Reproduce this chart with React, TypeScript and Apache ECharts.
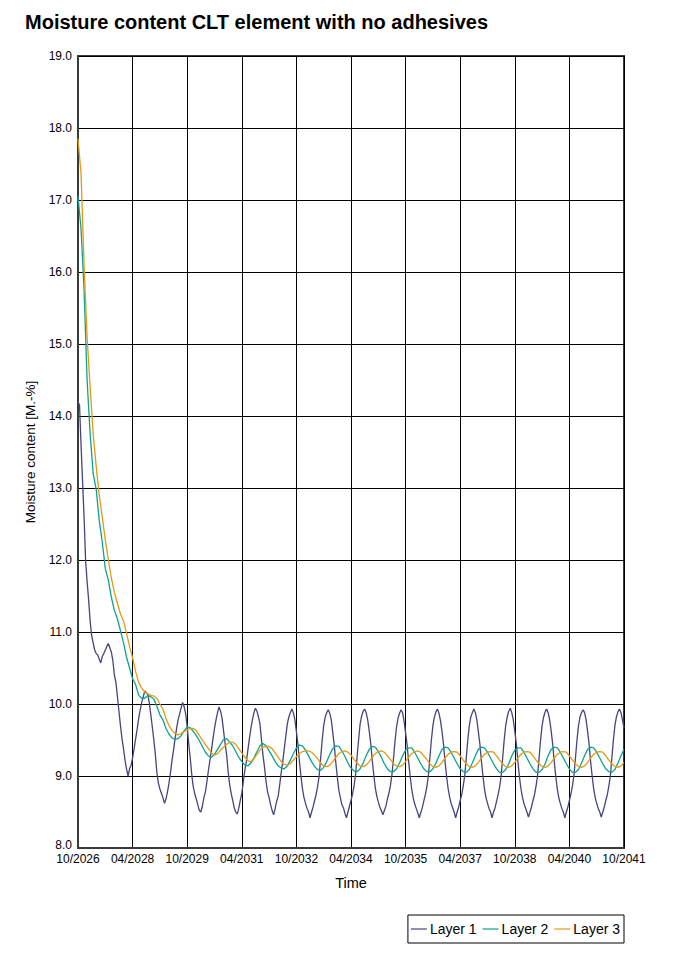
import React, { useEffect, useRef } from "react";
import * as echarts from "echarts";

// X axis: months since 10/2026, tick every 18 months
const X_TICKS = ["10/2026", "04/2028", "10/2029", "04/2031", "10/2032", "04/2034", "10/2035", "04/2037", "10/2038", "04/2040", "10/2041"];
const SERIES_NAMES = ["Layer 1", "Layer 2", "Layer 3"];

// Layer 1: half-month steps from month 0
const L1 = [
  14.2, 14.15, 13.6, 13.1, 12.6, 12.0, 11.7, 11.45, 11.15, 10.95, 10.85, 10.75, 10.7, 10.68, 10.62, 10.57, 10.66, 10.7, 10.75, 10.8, 10.84, 10.78, 10.72, 10.6,
  10.4, 10.3, 10.1, 9.9, 9.7, 9.52, 9.38, 9.22, 9.1, 9.0, 9.1, 9.15, 9.25, 9.38, 9.52, 9.65, 9.8, 9.92, 10.02, 10.1, 10.18, 10.16, 10.13, 10.02,
  9.85, 9.68, 9.5, 9.3, 9.05, 8.9, 8.82, 8.76, 8.7, 8.62, 8.68, 8.78, 8.9, 9.05, 9.22, 9.36, 9.52, 9.66, 9.78, 9.86, 9.95, 10.02, 9.96, 9.86,
  9.68, 9.45, 9.25, 9.02, 8.85, 8.75, 8.68, 8.6, 8.52, 8.5, 8.58, 8.7, 8.78, 8.92, 9.08, 9.22, 9.36, 9.52, 9.66, 9.78, 9.88, 9.96, 9.9, 9.8,
  9.62, 9.45, 9.3, 9.06, 8.88, 8.76, 8.66, 8.56, 8.5, 8.47, 8.55, 8.66, 8.76, 8.92, 9.08, 9.2, 9.36, 9.52, 9.66, 9.78, 9.88, 9.94, 9.9, 9.82,
  9.72, 9.5, 9.28, 9.12, 8.92, 8.78, 8.7, 8.6, 8.52, 8.46, 8.55, 8.65, 8.72, 8.88, 9.05, 9.2, 9.38, 9.55, 9.72, 9.82, 9.88, 9.93, 9.88, 9.78,
  9.62, 9.44, 9.2, 9.0, 8.82, 8.7, 8.62, 8.55, 8.5, 8.42, 8.5, 8.57, 8.66, 8.74, 8.86, 9.0, 9.25, 9.5, 9.7, 9.82, 9.88, 9.92, 9.87, 9.78,
  9.6, 9.42, 9.18, 8.98, 8.8, 8.7, 8.6, 8.56, 8.48, 8.42, 8.5, 8.58, 8.66, 8.75, 8.86, 9.02, 9.26, 9.5, 9.72, 9.83, 9.9, 9.93, 9.88, 9.78,
  9.63, 9.45, 9.22, 9.02, 8.84, 8.72, 8.64, 8.57, 8.52, 8.46, 8.52, 8.58, 8.68, 8.76, 8.87, 9.02, 9.24, 9.48, 9.68, 9.8, 9.87, 9.92, 9.88, 9.76,
  9.6, 9.43, 9.2, 9.0, 8.82, 8.7, 8.61, 8.55, 8.49, 8.42, 8.49, 8.56, 8.65, 8.74, 8.85, 9.0, 9.25, 9.5, 9.7, 9.82, 9.89, 9.93, 9.87, 9.77,
  9.62, 9.44, 9.2, 9.0, 8.83, 8.71, 8.62, 8.56, 8.5, 8.42, 8.5, 8.57, 8.66, 8.74, 8.86, 9.01, 9.25, 9.5, 9.7, 9.82, 9.88, 9.93, 9.88, 9.78,
  9.61, 9.44, 9.2, 9.0, 8.82, 8.7, 8.62, 8.55, 8.5, 8.42, 8.5, 8.56, 8.65, 8.74, 8.85, 9.0, 9.25, 9.5, 9.7, 9.82, 9.9, 9.94, 9.88, 9.78,
  9.62, 9.45, 9.21, 9.0, 8.83, 8.71, 8.62, 8.56, 8.5, 8.43, 8.5, 8.57, 8.66, 8.74, 8.86, 9.0, 9.25, 9.5, 9.7, 9.82, 9.89, 9.93, 9.88, 9.78,
  9.62, 9.44, 9.2, 9.0, 8.82, 8.7, 8.62, 8.55, 8.5, 8.42, 8.5, 8.57, 8.66, 8.75, 8.86, 9.01, 9.25, 9.5, 9.7, 9.82, 9.88, 9.92, 9.88, 9.78,
  9.62, 9.44, 9.2, 9.0, 8.82, 8.7, 8.62, 8.55, 8.5, 8.43, 8.5, 8.57, 8.66, 8.74, 8.86, 9.0, 9.25, 9.5, 9.7, 9.82, 9.89, 9.93, 9.88, 9.78,
  9.66,
];

// Layer 2: monthly steps from month 0
const L2 = [
  17.05, 16.6, 15.75, 14.5, 13.75, 13.2, 12.98, 12.55, 12.25, 11.88, 11.72, 11.48,
  11.3, 11.18, 11.02, 10.85, 10.65, 10.5, 10.35, 10.27, 10.12, 10.08, 10.08, 10.12,
  10.1, 10.07, 9.97, 9.85, 9.78, 9.66, 9.58, 9.53, 9.51, 9.52, 9.56, 9.63,
  9.68, 9.67, 9.62, 9.56, 9.49, 9.41, 9.33, 9.28, 9.26, 9.3, 9.37, 9.44,
  9.51, 9.52, 9.47, 9.42, 9.34, 9.26, 9.2, 9.15, 9.14, 9.18, 9.25, 9.34,
  9.42, 9.45, 9.42, 9.35, 9.28, 9.2, 9.14, 9.11, 9.1, 9.14, 9.22, 9.31,
  9.39, 9.43, 9.42, 9.36, 9.28, 9.2, 9.13, 9.09, 9.08, 9.12, 9.2, 9.3,
  9.38, 9.42, 9.41, 9.35, 9.27, 9.18, 9.11, 9.07, 9.06, 9.1, 9.18, 9.28,
  9.37, 9.41, 9.4, 9.34, 9.26, 9.17, 9.1, 9.06, 9.06, 9.1, 9.18, 9.28,
  9.36, 9.39, 9.39, 9.33, 9.25, 9.17, 9.1, 9.06, 9.06, 9.1, 9.18, 9.28,
  9.37, 9.4, 9.39, 9.33, 9.25, 9.17, 9.1, 9.06, 9.05, 9.09, 9.18, 9.28,
  9.37, 9.4, 9.39, 9.33, 9.25, 9.17, 9.1, 9.05, 9.05, 9.09, 9.17, 9.28,
  9.36, 9.39, 9.39, 9.33, 9.25, 9.17, 9.1, 9.05, 9.05, 9.09, 9.17, 9.28,
  9.37, 9.4, 9.39, 9.33, 9.25, 9.17, 9.1, 9.05, 9.05, 9.09, 9.18, 9.28,
  9.37, 9.4, 9.39, 9.33, 9.25, 9.17, 9.1, 9.06, 9.05, 9.09, 9.18, 9.28,
  9.37,
];

// Layer 3: monthly steps from month 0
const L3 = [
  17.85, 17.37, 16.1, 15.1, 14.4, 13.75, 13.3, 12.9, 12.6, 12.28, 12.0, 11.75,
  11.55, 11.4, 11.25, 11.15, 10.98, 10.8, 10.64, 10.45, 10.3, 10.22, 10.17, 10.14,
  10.12, 10.11, 10.08, 10.0, 9.93, 9.8, 9.7, 9.63, 9.59, 9.57, 9.59, 9.62,
  9.64, 9.66, 9.66, 9.63, 9.56, 9.5, 9.44, 9.38, 9.32, 9.29, 9.31, 9.36,
  9.4, 9.44, 9.47, 9.47, 9.44, 9.38, 9.32, 9.26, 9.21, 9.2, 9.24, 9.3,
  9.36, 9.4, 9.41, 9.41, 9.38, 9.32, 9.26, 9.2, 9.16, 9.15, 9.17, 9.22,
  9.27, 9.31, 9.34, 9.35, 9.35, 9.33, 9.29, 9.24, 9.18, 9.14, 9.13, 9.15,
  9.2, 9.26, 9.31, 9.34, 9.35, 9.33, 9.29, 9.23, 9.18, 9.14, 9.13, 9.15,
  9.2, 9.26, 9.31, 9.34, 9.35, 9.33, 9.28, 9.23, 9.17, 9.14, 9.13, 9.15,
  9.2, 9.26, 9.31, 9.34, 9.35, 9.33, 9.28, 9.23, 9.17, 9.13, 9.12, 9.14,
  9.19, 9.25, 9.3, 9.33, 9.34, 9.33, 9.28, 9.22, 9.17, 9.13, 9.12, 9.14,
  9.19, 9.25, 9.3, 9.33, 9.34, 9.33, 9.28, 9.22, 9.17, 9.13, 9.12, 9.14,
  9.19, 9.25, 9.3, 9.33, 9.34, 9.33, 9.28, 9.22, 9.17, 9.13, 9.12, 9.14,
  9.19, 9.25, 9.3, 9.33, 9.34, 9.33, 9.28, 9.22, 9.17, 9.13, 9.12, 9.14,
  9.19, 9.25, 9.3, 9.33, 9.34, 9.33, 9.28, 9.22, 9.17, 9.13, 9.12, 9.14,
  9.19,
];

const COLORS = ["#45457f", "#0ba392", "#e39b12"];
const FONT = "Liberation Sans, Arial, sans-serif";

export default function App() {
  const ref = useRef<HTMLDivElement>(null);
  useEffect(() => {
    if (!ref.current) return;
    const chart = echarts.init(ref.current, null, { renderer: "svg" });
    const d1 = L1.map((v, i) => [i * 0.5, v]);
    const d2 = L2.map((v, i) => [i, v]);
    const d3 = L3.map((v, i) => [i, v]);
    const lineSeries = (name: string, data: number[][], color: string) => ({
      name,
      type: "line",
      data,
      showSymbol: false,
      symbol: "none",
      lineStyle: { color, width: 1.3 },
      itemStyle: { color },
    });
    chart.setOption({
      animation: false,
      backgroundColor: "#ffffff",
      textStyle: { fontFamily: FONT },
      title: {
        text: "Moisture content CLT element with no adhesives",
        left: 20,
        top: 7,
        textStyle: { fontSize: 20, fontWeight: "bold", color: "#000", fontFamily: FONT },
      },
      grid: {
        left: 78,
        right: 50,
        top: 56,
        bottom: 105,
        show: true,
        borderColor: "#3a3a3a",
        borderWidth: 2,
        containLabel: false,
      },
      legend: {
        data: SERIES_NAMES,
        icon: "rect",
        right: 50,
        bottom: 10,
        orient: "horizontal",
        borderColor: "#000",
        borderWidth: 1,
        padding: [7, 4, 7, 3],
        itemGap: 6,
        itemWidth: 16,
        itemHeight: 1.2,
        textStyle: { fontSize: 14, color: "#000", fontFamily: FONT, padding: [0, 0, 0, -2] },
      },
      xAxis: {
        type: "value",
        min: 0,
        max: 180,
        interval: 18,
        name: "Time",
        nameLocation: "middle",
        nameGap: 27,
        nameTextStyle: { fontSize: 14.5, color: "#000", fontFamily: FONT },
        axisLine: { show: true, lineStyle: { color: "#3a3a3a", width: 2 } },
        axisTick: { show: false },
        axisLabel: {
          color: "#000",
          fontSize: 12,
          margin: 5,
          fontFamily: FONT,
          formatter: (v: number) => X_TICKS[Math.round(v / 18)] ?? "",
        },
        splitLine: { show: true, lineStyle: { color: "#000", width: 1 } },
      },
      yAxis: {
        type: "value",
        min: 8,
        max: 19,
        interval: 1,
        name: "Moisture content [M.-%]",
        nameLocation: "middle",
        nameGap: 37,
        nameRotate: 90,
        nameTextStyle: { fontSize: 13.5, color: "#000", fontFamily: FONT },
        axisLine: { show: true, lineStyle: { color: "#3a3a3a", width: 2 } },
        axisTick: { show: false },
        axisLabel: {
          color: "#000",
          fontSize: 12,
          margin: 6,
          fontFamily: FONT,
          formatter: (v: number) => (v === 8 ? "{b|" + v.toFixed(1) + "}" : v.toFixed(1)),
          rich: { b: { fontSize: 12, color: "#000", fontFamily: FONT, padding: [0, 0, 6, 0] } },
        },
        splitLine: { show: true, lineStyle: { color: "#000", width: 1 } },
      },
      series: [
        lineSeries(SERIES_NAMES[0], d1, COLORS[0]),
        lineSeries(SERIES_NAMES[1], d2, COLORS[1]),
        lineSeries(SERIES_NAMES[2], d3, COLORS[2]),
      ],
    });
    return () => chart.dispose();
  }, []);
  return (
    <div
      ref={ref}
      style={{ position: "absolute", left: 0, top: 0, width: 674, height: 953, background: "#fff" }}
    />
  );
}
